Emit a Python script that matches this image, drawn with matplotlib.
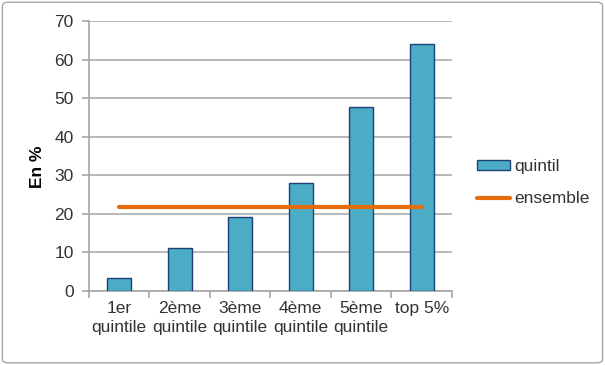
import matplotlib
matplotlib.use("Agg")
import matplotlib.pyplot as plt
from matplotlib.patches import FancyBboxPatch

categories = ["1er\nquintile", "2ème\nquintile", "3ème\nquintile", "4ème\nquintile", "5ème\nquintile", "top 5%"]
quintil = [3.3, 11.2, 19.3, 28.1, 47.8, 64.2]
ensemble = [21.7] * 6
yticks = [0, 10, 20, 30, 40, 50, 60, 70]

plt.rcParams['font.family'] = ['Liberation Sans', 'DejaVu Sans']

fig = plt.figure(figsize=(6.05, 3.65), dpi=100)
border = FancyBboxPatch((0.004, 0.006), 0.992, 0.988, boxstyle="round,pad=0,rounding_size=0.01",
                        transform=fig.transFigure, fill=False, edgecolor="#A6A6A6", linewidth=1.0)
fig.patches.append(border)

ax = fig.add_axes([0.147, 0.203, 0.600, 0.739])
x = list(range(len(categories)))
bars = ax.bar(x, quintil, width=0.4, color="#4BACC6", edgecolor="#1F3F77", linewidth=1.0, label="quintil", zorder=3)
line, = ax.plot(x, ensemble, color="#E46C0A", linewidth=3, label="ensemble", zorder=4, solid_capstyle='round')

ax.set_xlim(-0.5, len(categories) - 0.5)
ax.set_ylim(0, 70)
ax.set_yticks(yticks)
ax.set_yticklabels([str(v) for v in yticks], fontsize=12.5, color="#333333")
ax.set_xticks(x)
ax.set_xticklabels(categories, fontsize=12.5, color="#333333", linespacing=1.35)
ax.tick_params(axis='x', length=0, pad=7)
ax.set_xticks([i - 0.5 for i in range(len(categories) + 1)], minor=True)
ax.tick_params(axis='x', which='minor', length=5, color="#A6A6A6", width=1.2)
ax.tick_params(axis='y', length=5, color="#A6A6A6", width=1.2, pad=6)

ax.grid(axis='y', color="#B3B3B3", linewidth=1.3, zorder=0)
ax.set_axisbelow(True)
for s in ["top", "right"]:
    ax.spines[s].set_visible(False)
ax.spines["left"].set_color("#A6A6A6")
ax.spines["left"].set_linewidth(1.2)
ax.spines["bottom"].set_color("#A6A6A6")
ax.spines["bottom"].set_linewidth(1.2)

ax.set_ylabel("En %", fontsize=12.5, fontweight="bold")
ax.yaxis.set_label_coords(-0.12, 0.46)

leg = fig.legend([bars, line], ["quintil", "ensemble"], loc="upper left", bbox_to_anchor=(0.762, 0.607),
                 frameon=False, fontsize=12.5, handlelength=1.9, handleheight=0.55, labelspacing=1.0,
                 handletextpad=0.25)
for t in leg.get_texts():
    t.set_color("#333333")

fig.savefig("out.png", dpi=100)
